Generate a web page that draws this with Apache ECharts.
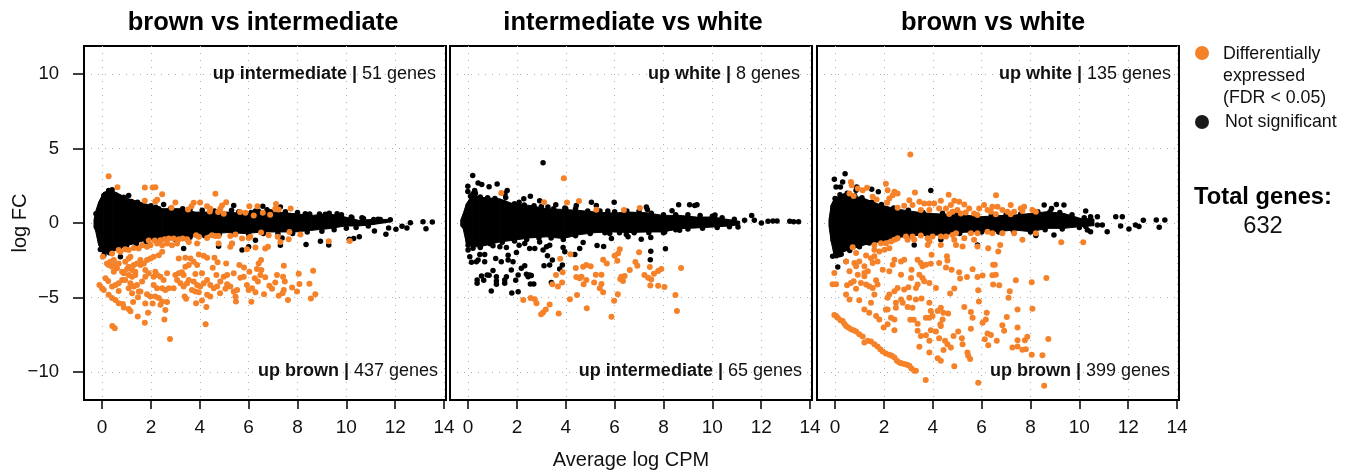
<!DOCTYPE html>
<html><head><meta charset="utf-8">
<script src="https://cdn.jsdelivr.net/npm/echarts@6/dist/echarts.min.js"></script>
<style>html,body{margin:0;padding:0;background:#fff}#c{width:1354px;height:475px}</style></head>
<body><div id="c"></div>
<script>
const panelTitles=['brown vs intermediate','intermediate vs white','brown vs white'];
const topNotes=[['up intermediate |','51 genes'],['up white |','8 genes'],['up white |','135 genes']];
const bottomNotes=[['up brown |','437 genes'],['up intermediate |','65 genes'],['up brown |','399 genes']];
const xTicks=[0,2,4,6,8,10,12,14];
const yTicks=[-10,-5,0,5,10];

// Dense core of non-significant genes: [average log CPM, upper log FC, lower log FC]
const core1=[[-.33,.2,-.3],[-.27,.73,-.49],[-.14,1.4,-1.49],[.07,2.07,-2.04],[.41,2.18,-1.93],[1.09,1.62,-1.49],[1.77,1.29,-1.16],[2.46,.96,-1.04],[3.14,.96,-1],[3.82,.73,-.87],[4.5,.73,-.71],[5.18,.73,-.64],[5.87,.62,-.71],[6.55,.73,-.6],[7.23,.73,-.6],[7.91,.62,-.6],[8.59,.51,-.49],[9.28,.62,-.38],[9.96,.4,-.2],[10.5,.18,-.2],[11.05,.24,-.11],[11.8,.24,.07]];
const core2=[[-.3,.2,-.2],[-.2,.62,-.38],[-.07,1.29,-1.38],[.2,1.96,-1.6],[.48,1.73,-1.6],[1.3,1.62,-1.27],[1.84,1.29,-1.16],[2.52,1.18,-1],[3.21,.96,-.93],[3.89,.91,-1.04],[4.57,.84,-.78],[5.25,.73,-.64],[5.93,.67,-.6],[6.62,.73,-.64],[7.3,.69,-.6],[7.98,.51,-.6],[8.66,.51,-.38],[9.35,.4,-.33],[10.03,.4,-.27],[10.71,.22,-.2],[11.12,.11,-.11]];
const core3=[[-.25,.2,-.2],[-.16,1.2,-1.24],[-.03,1.64,-2.24],[.38,1.98,-1.91],[1.2,1.64,-1.47],[1.88,1.2,-1.24],[2.56,.93,-.98],[3.24,.76,-.84],[3.92,.64,-.84],[4.6,.58,-.76],[5.29,.53,-.62],[5.97,.42,-.58],[6.65,.49,-.58],[7.33,.53,-.47],[8.01,.64,-.58],[8.69,.76,-.36],[9.37,.64,-.36],[10.05,.31,-.24],[10.6,.27,-.18]];

// Individually visible non-significant genes: [average log CPM, log FC]
const black1=[[-.25,.62],[.07,1.84],[.27,2.18],[.41,2.24],[1.09,1.84],[.89,1.73],[2.52,1.24],[2.32,.96],[5.39,1.18],[6.58,1.13],[6.28,.8],[6.75,.89],[7.3,1.07],[8.32,.62],[9.14,.58],[9.62,.62],[10.23,.36],[10.64,.36],[11.12,.24],[11.39,.24],[11.8,.22],[11.15,-.53],[11.62,-.76],[11.73,-.33],[12.03,-.42],[12.28,-.22],[12.48,-.33],[12.62,.02],[13.14,.09],[13.26,-.38],[13.52,.07],[10.53,-.93],[10.3,-1.04],[10.12,-1.09],[9.28,-1.47],[8.94,-1.22],[8.35,-1.44],[7.3,-1.49],[7.37,-1],[6.28,-1.16],[6,-1.6],[5.73,-1.82],[4.77,-1.56],[5.32,-1.38],[3.34,-1.71],[.75,-2.27],[-.07,-1.78],[.07,-2.16],
[.2,1.95],[.55,1.9],[.85,1.7],[1.2,1.45],[1.45,1.4],[2,1.15],[2.2,1.05],[2.8,.95],[3.3,.95],[3.6,.9],[4.1,.85],[4.6,.8],[5.3,.85],[5.6,.75],[6.1,.7],[6.4,.8],[6.9,.75],[7.5,.75],[8,.7],[8.5,.6],[8.9,.6],[9.3,.65],[9.8,.55],[10.2,.4],[10.7,.3],[11.3,.25],
[.1,-1.95],[.3,-2],[.7,-1.75],[1,-1.6],[1.4,-1.4],[1.8,-1.25],[2.3,-1.15],[3,-1.1],[3.6,-.95],[4.2,-.85],[4.8,-.75],[5.4,-.75],[6,-.75],[6.6,-.7],[7.2,-.7],[7.8,-.7],[8.4,-.6],[9,-.55],[9.5,-.45],[10,-.35],[10.4,-.3],[10.9,-.2]];
const black2=[[3.07,4.04],[.19,3.18],[-.01,2.47],[-.01,2.11],[.41,2.69],[.56,2.58],[.86,2.44],[1.19,2.62],[.27,2.18],[.2,1.96],[1.6,2.18],[1.51,1.96],[1.54,1.71],[2.55,1.8],[2.28,1.62],[2.09,1.4],[2.93,1.49],[3.27,1.07],[3.59,1.22],[3.96,1],[4.43,1.18],[5.05,1.4],[5.25,1.18],[5.98,1.4],[5.72,.8],[7.3,1.07],[7.34,.91],[8.35,.82],[8.62,1.22],[9.07,1.22],[9.28,1.18],[9.37,1.22],[10.11,.53],[11.61,.51],[11.72,.18],[12.01,0],[12.28,.11],[12.48,.13],[12.65,.13],[13.17,.11],[13.33,.09],[13.53,.09],[11.32,.18],[11.05,-.27],[0,-1.82],[.07,-2.27],[.14,-2.64],[.34,-2.6],[.41,-2.49],[.68,-2.6],[.48,-2.11],[.68,-2.11],[1.02,-1.53],[1.3,-1.6],[1.57,-1.64],[1.13,-2.38],[1.36,-2.6],[1.64,-2.16],[1.64,-2.49],[1.98,-1.98],[1.84,-2.6],[1.77,-3.16],[2.18,-3.04],[2.32,-2.87],[2.05,-3.49],[1.95,-3.84],[1.02,-3.18],[.55,-3.56],[.78,-3.49],[.86,-3.51],[.64,-3.84],[.37,-3.82],[.37,-4.04],[1.16,-3.6],[1.16,-3.89],[1.16,-4.11],[1.5,-3.82],[1.5,-4.04],[1.57,-3.6],[.95,-4.56],[1.79,-4.69],[2.05,-4.62],[2.39,-3.44],[2.52,-3.49],[2.46,-3.6],[2.59,-3.53],[2.55,-4.09],[2.69,-4.09],[2.09,-1.49],[2.32,-1.38],[2.52,-1.71],[2.73,-1.71],[2.93,-1.27],[3.07,-1.82],[3.21,-1.6],[3.34,-1.49],[3.25,-2.2],[3.45,-2.49],[3.11,-2.87],[3.34,-2.82],[3.75,-3.09],[3.86,-2.82],[3.89,-1.64],[3.96,-1.93],[4.37,-2.11],[4.57,-1.71],[4.71,-1.31],[5.28,-1.51],[5.55,-1.58],[5.8,-.71],[5.87,-1.04],[6.48,-.78],[6.55,-.93],[7.09,-1.09],[7.48,-.98],[7.48,-1.89],[7.46,-2.47],[8.08,-1.73],[8.05,-.6],[3.41,-4],[8.66,-.49],
[.1,1.8],[.3,2],[.5,1.75],[.8,1.7],[1.1,1.65],[1.5,1.35],[1.9,1.3],[2.3,1.2],[2.7,1.15],[3,1.1],[3.5,.95],[4,.95],[4.4,.95],[4.9,.8],[5.4,.8],[6,.75],[6.5,.8],[7,.8],[7.5,.65],[8,.55],[8.5,.55],[9,.55],[9.5,.5],[10,.45],[10.4,.35],[10.9,.25],
[0,-1.5],[.2,-1.7],[.5,-1.65],[.9,-1.4],[1.4,-1.3],[1.9,-1.2],[2.4,-1.1],[2.9,-1],[3.4,-1],[3.9,-1.1],[4.4,-.85],[5,-.7],[5.6,-.65],[6.2,-.65],[6.8,-.65],[7.4,-.65],[8,-.65],[8.5,-.45],[9,-.4],[9.6,-.35],[10.2,-.3],[10.7,-.25]];
const black3=[[.41,3.31],[-.03,2.93],[.04,2.42],[.22,2.42],[.31,2.76],[.86,2.2],[.89,2.42],[1.5,2.27],[1.77,2.09],[3.92,2.18],[8.56,1.2],[9.06,1.24],[9.37,1.2],[10.26,.8],[8.86,.98],[11.49,.42],[11.76,.42],[10.74,.42],[10.46,.42],[12.62,.18],[13.15,.2],[13.5,.2],[13.27,-.29],[12.03,-.4],[12.3,-.13],[12.44,-.24],[11.69,-.2],[11.14,-.58],[10.33,-.47],[10.26,-.24],[10.46,-.58],[10.74,-.13],[10.94,-.13],[.11,-2.96],[-.1,-2.24],[.18,-2.13],[.45,-2.58],[8.96,-.8],[8.22,-.84],[5.83,-1.47],[4.33,-1.13],[3.24,-1.47],
[0,1.65],[.2,1.9],[.5,2],[.8,1.85],[1.1,1.7],[1.5,1.4],[1.9,1.25],[2.4,1],[3,.85],[3.6,.7],[4.4,.65],[5,.55],[5.8,.5],[6.4,.55],[7,.55],[7.6,.6],[8.3,.75],[8.8,.75],[9.2,.7],[9.7,.55],[10.2,.35],
[.05,-2.2],[.25,-2.1],[.6,-1.85],[1,-1.6],[1.4,-1.35],[1.9,-1.25],[2.5,-1.05],[3.1,-.9],[3.8,-.9],[4.5,-.8],[5.1,-.7],[6,-.6],[6.7,-.6],[7.3,-.55],[8,-.6],[8.6,-.45],[9.3,-.4],[10,-.3]];

// Differentially expressed genes: [average log CPM, log FC]
const orange1=[[.27,3.13],[.63,2.4],[1.75,2.38],[2.07,2.38],[2.18,2.4],[2.46,1.93],[1.75,1.49],[2.18,1.44],[2.26,1.56],[3,1.38],[2.84,1.02],[4.64,1.96],[3.75,1.36],[4.01,1.38],[3.66,1.13],[3.52,.91],[4.3,1.13],[4.43,.96],[4.41,.78],[5.08,1.4],[4.91,1.18],[4.84,.96],[4.75,.73],[4.98,.62],[5.65,.73],[5.87,.69],[6.03,1.13],[6.21,.51],[6.36,1.13],[6.58,.69],[6.88,.56],[7.12,1.27],[7.09,.96],[7.23,.91],[7.72,.98],
[1.91,-1.18],[2.16,-1.18],[2.39,-1.16],[2.56,-1.09],[2.73,-1.04],[2.93,-1.04],[3.14,-1.09],[3.3,-1.04],[3.48,-1.09],[3.85,-.82],[3.96,-.93],[4.3,-1],[4.5,-.82],[4.64,-.87],[4.77,-.87],[5.25,-.87],[5.46,-.78],[5.73,-1.04],[6,-1],[6.07,-.93],[6.51,-.64],[6.82,-.82],[7.19,-.93],[7.67,-.6],[7.64,-1.09],[8.12,-.78],[9.28,-1.22],[10.14,-1.2],
[1.64,-1.49],[1.84,-1.6],[1.98,-1.49],[2.25,-1.38],[2.46,-1.49],[2.66,-1.38],[2.86,-1.49],[3.07,-1.38],[3.55,-1.27],[3.89,-1.38],[4.77,-1.38],[5.25,-1.6],[5.32,-1.38],[5.93,-1.76],[6.28,-1.64],[6.68,-1.71],[6.79,-1.6],[7.3,-1.27],[1.3,-1.67],[.95,-1.76],[.68,-1.82],[.41,-2.04],[.03,-2.27],[.75,-1.93],[1.09,-1.82],[1.5,-1.71],
[.2,-2.71],[.34,-2.6],[.48,-2.49],[.55,-2.82],[.68,-2.71],[.41,-2.93],[.27,-2.82],[.61,-3.04],[.82,-3.27],[.48,-3.27],[1.09,-2.38],[.95,-2.6],[1.16,-2.27],[1.3,-2.82],[1.43,-2.71],[1.57,-2.49],[1.71,-2.71],[1.84,-2.49],[1.98,-2.38],[2.11,-2.27],[2.32,-2.16],[2.46,-1.93],[1.57,-2.82],[1.77,-3.16],[1.09,-2.93],[1.23,-3.16],[1.36,-3.27],[.89,-3.38],[1.02,-3.09],
[.14,-3.71],[.25,-3.89],[-.11,-4.16],[0,-4.38],[.07,-4.49],[.55,-4.16],[.68,-4.04],[.82,-3.82],[.95,-3.82],[.41,-4.27],[.68,-4.56],[1.09,-3.49],[1.23,-3.6],[1.36,-3.49],[1.16,-4.04],[1.3,-4.27],[1.09,-4.38],[1.23,-4.71],[1.43,-4.16],[1.64,-3.93],[1.77,-3.6],[1.91,-3.38],[1.57,-4.6],[1.5,-4.6],[2.18,-3.27],[2.11,-3.6],[2.25,-3.49],[2.39,-3.6],[2.52,-3.82],[2.66,-3.38],[2.11,-4.16],[2.25,-4.38],[2.46,-4.38],[2.59,-4.49],[2.73,-4.38],[2.93,-4.38],[3,-3.49],[3.14,-3.38],[3.27,-3.31],[3.34,-3.49],[3.07,-3.82],[3.21,-4.04],[3.34,-4.27],[3.48,-4.04],[3.55,-3.82],[3.82,-3.42],[4.09,-3.38],[3.75,-3.93],[3.89,-4.16],[4.02,-4.27],[4.16,-4.04],[4.3,-3.82],[4.43,-4.16],[4.57,-4.38],[4.71,-4.27],[4.84,-3.93],[4.98,-3.6],[4.68,-3.49],[5.12,-3.49],[5.39,-3.38],[5.8,-3.6],[5.66,-3.67],[6.03,-3.27],[6.25,-3.71],[6.48,-3.49],[6.52,-3.16],[6.68,-3.64],[6.38,-3.93],
[3.14,-2.38],[3.41,-2.33],[3.62,-2.38],[3.75,-2.6],[3.55,-2.82],[3.41,-2.93],[3.89,-2.82],[3.96,-2.11],[4.16,-2.2],[4.3,-2.33],[4.6,-2.33],[4.73,-2.64],[4.53,-3],[5.08,-2.71],[5.62,-2.82],[5.81,-2.98],[6.34,-3.09],[6.41,-2.71],[6.51,-2.49],[7.44,-2.87],[7.16,-3.49],[7.41,-3.6],[8.05,-3.4],[8.64,-3.2],[7.48,-3.93],[7.09,-4],[6.85,-4.22],[6.96,-4.42],[8.08,-4.09],[8.49,-4.07],[7.78,-4.33],[7.98,-4.6],[7.44,-4.49],[7.39,-4.71],[7.23,-4.89],[7.61,-5.16],[8.55,-5.07],[8.73,-4.78],
[5.93,-4.16],[6.14,-4.38],[6,-4.49],[6.28,-4.64],[6.63,-4.78],[5.53,-4.49],[5.39,-4.6],[5.46,-4.93],[5.48,-5.27],[6.11,-5.29],[5.12,-4.11],[5.25,-4.27],[5.05,-4.42],[4.83,-4.71],[3.82,-4.6],[3.68,-4.49],[3.96,-4.64],[4.3,-4.82],[4.43,-4.93],[3.38,-4.93],[3.44,-5.09],[3.85,-5.38],[4.09,-5.2],[4.27,-5.64],
[.27,-4.82],[.41,-5.04],[.55,-5.16],[.68,-5.38],[.85,-5.44],[.89,-5.67],[1.09,-5.78],[1.16,-5.93],[1.27,-5.31],[1.47,-4.98],[1.84,-4.78],[1.98,-4.93],[2.18,-4.93],[2.32,-5.04],[2.46,-5.27],[2.66,-5.31],[1.77,-5.4],[2.07,-5.4],[2.39,-5.49],[2.59,-5.84],[1.88,-6.02],[1.46,-6.27],[1.75,-6.69],[2.55,-6.47],[.42,-6.91],[.52,-7.07],[2.78,-7.78],[4.24,-6.8]];
const orange2=[[3.92,3],[1.36,2.02],[3.11,1.4],[4.05,1.38],[4.54,1.47],[5.25,.89],[6.38,.87],[7.03,1],[3.77,-2.4],[4.19,-2.09],[6.21,-1.76],[6.14,-2.04],[6,-2.2],[6.11,-2.53],[7,-1.96],[5.53,-2.47],[5.68,-2.71],[4.41,-3.02],[4.71,-2.93],[4.84,-2.82],[5.02,-2.91],[6.85,-2.62],[6.93,-2.87],[6.62,-3.16],[7.44,-2.96],[8.72,-3.02],[7.91,-3.09],[7.78,-3.22],[7.61,-3.4],[7.22,-3.49],[7.37,-3.67],[7.5,-3.8],[5.23,-3.47],[5.46,-3.47],[3.6,-3.49],[3.87,-3.31],[4.43,-3.62],[4.57,-3.71],[4.64,-3.6],[4.84,-3.82],[6.28,-3.6],[6.41,-3.56],[6.23,-3.76],[6.34,-3.89],[3.45,-4.11],[3.68,-4.27],[3.85,-4],[4.73,-4.11],[5.16,-4],[5.46,-4.09],[5.39,-4.38],[5.53,-4.64],[7.46,-4.2],[7.78,-4.22],[8.04,-4.29],[8.49,-4.84],[4.46,-4.84],[4.17,-5.11],[6.13,-4.78],[5.98,-5.22],[2.26,-5.16],[2.56,-5.04],[2.73,-5.11],[2.8,-5.38],[3.34,-5.47],[3.18,-5.8],[3.07,-6],[2.99,-6.13],[3.71,-6.07],[4.86,-5.73],[5.87,-6.29],[8.55,-5.91]];
const orange3=[[3.08,4.6],[.65,2.76],[.68,2.53],[.59,1.98],[.76,1.82],[.93,2.31],[1.13,2.2],[1.31,2.36],[1.54,1.76],[1.7,1.58],[2.08,2.64],[2.15,2.2],[2.43,2.09],[2.56,1.98],[2.36,1.87],[2.22,1.64],[2.13,1.36],[3.27,2.04],[4.65,1.89],[6.59,1.87],
[2.56,1.02],[2.83,1.16],[3.04,1.53],[3.17,1.2],[3.45,1.42],[3.65,1.31],[3.86,1.31],[4.06,1.31],[4.33,1.49],[4.26,.98],[3.86,.87],[3.51,.87],[4.54,.98],[4.74,1.2],[4.88,1.49],[5.08,1.42],[5.29,1.24],[5.01,.87],[4.81,.76],[4.67,.6],[5.15,.64],[5.49,.98],[5.35,.71],[5.69,.64],[5.9,.98],[6.1,1.2],[6.24,.87],[6.44,1.09],[6.65,1.09],[6.85,.87],[7.06,.76],[7.19,1.2],[7.33,.76],[7.6,.98],[7.74,1.09],[8.08,.87],[8.22,.76],[5.83,.53],[6.38,.76],[6.58,.58],[7.19,.58],[7.67,.8],
[2.56,-1.02],[2.43,-1.13],[2.9,-.91],[3.17,-.91],[3.51,-.84],[3.79,-1.02],[3.99,-.91],[4.33,-.91],[4.54,-.91],[4.81,-.8],[4.95,-.69],[5.29,-1.02],[5.56,-.69],[5.83,-.69],[6.24,-.58],[6.44,-.69],[6.85,-.69],[7.33,-.69],[7.67,-1.13],[8.22,-.69],[9.26,-1.29],[10.16,-1.29],[5.69,-1.13],[5.22,-1.58],[5.83,-1.58],[6.27,-1.69],[6.68,-1.91],[6.76,-1.47],[4.88,-1.13],[4.95,-1.47],[4.33,-1.47],[3.79,-1.47],[3.24,-1.13],[2.97,-1.13],[2.08,-1.36],[1.88,-1.36],[1.61,-1.47],[2.29,-1.24],[1.81,-1.91],[2.02,-1.8],[2.22,-1.69],[1.61,-1.8],[3.86,-1.24],[.72,-1.62],[.86,-2.02],[1.27,-2.18],[1.47,-2.36],[1.61,-2.24],[1.74,-2.58],[1.54,-2.69],[.45,-2.58],[.79,-2.69],[.99,-2.58],[1.2,-2.91],[.86,-2.91],[.93,-3.47],[1.2,-3.36],[1.34,-3.24],[.59,-3.24],[1.2,-3.58],[-.03,-3.36],[-.1,-4.11],[.04,-4.11],[.49,-4.18],[.65,-4.02],[.76,-3.91],[1.06,-4.02],[1.27,-4.13],[1.4,-4.24],[1.68,-3.84],[1.74,-4.13],[1.54,-4.36],[1.61,-4.8],[1.47,-5.36],[.86,-4.42],[.45,-4.8],[.59,-5.13],[.99,-5.18],[1.2,-5.8],[1.4,-6.02],[1.68,-6.24],[1.81,-6.47],[1.99,-7.02],[2.15,-6.8],[2.43,-7.2],[2.29,-6.36],[2.43,-6.47],[2.08,-5.8],
[1.95,-3.13],[2.22,-3.24],[2.36,-2.8],[2.43,-2.47],[2.7,-2.58],[2.83,-2.47],[3.38,-2.47],[3.51,-2.69],[3.72,-2.8],[3.92,-2.73],[3.58,-2.91],[3.95,-2.13],[4.26,-2.69],[4.58,-2.24],[4.6,-2.51],[4.54,-2.98],[4.77,-3.13],[5.63,-3.11],[5.08,-3.31],[5.4,-3.62],[5.12,-3.73],[5.83,-3.62],[6.04,-3.53],[6.47,-2.8],[6.54,-2.8],[6.44,-3.51],[6.58,-3.47],[7.4,-3.84],[8.65,-3.69],[8.05,-3.98],[6.47,-4.13],[6.72,-4.18],[5.86,-4.51],[7.15,-4.58],[7.1,-5.02],[5.89,-5.27],[4.71,-4.73],[4.88,-4.4],
[2.7,-3.47],[3.13,-3.13],[3.11,-3.69],[3.45,-3.47],[3.58,-3.69],[3.65,-3.91],[3.38,-4.13],[3.31,-4.36],[3.86,-4.02],[4.13,-4.36],[2.43,-4.58],[2.56,-4.36],[2.22,-4.8],[2.83,-4.47],[3,-4.31],[3.04,-5.02],[3.54,-5.07],[3.31,-5.13],[2.7,-5.13],[2.49,-5.36],[2.15,-5.02],[2.77,-5.36],[2.97,-5.64],[3.17,-5.69],[2.49,-5.69],[2.15,-5.8],[3.86,-5.36],[3.22,-6.49],[3.08,-6.49],[3.92,-5.91],[3.86,-6.36],[3.72,-6.36],[3.99,-6.24],[4.33,-5.69],[4.2,-5.91],[4.43,-6.02],[4.63,-6.07],[4.4,-6.47],[4.31,-6.8],[5.29,-5.64],[5.56,-5.98],[6.21,-6.02],[7.47,-5.8],[8.08,-5.76],[5.63,-6.36],[6.17,-6.47],[6.04,-6.69],[5.56,-7.09],[7.03,-6.31],[6.85,-6.87],[6.92,-7.24],[7.47,-7.02],[6.24,-7.42],[6.38,-7.51],[6.13,-7.8],[6.62,-7.91],[6.27,-8.2],[7.47,-7.87],[7.77,-7.87],[7.87,-7.64],[8.73,-7.78],[3.38,-6.76],[3.38,-7.24],[3.51,-7.58],[3.72,-7.53],[3.92,-7.2],[4.13,-7.29],[4.33,-6.91],[5.04,-7.29],[4.85,-7.58],[5.19,-7.73],[5.22,-8.13],[3.86,-7.91],[4.26,-7.73],[4.5,-7.91],[4.6,-8.13],[4.74,-8.36],[3.45,-8.31],[3.86,-8.69],[4.44,-8.53],[5.42,-8.69],[5.45,-8.91],[5.53,-9.13],[4.2,-9.07],[4.33,-9.24],[4.88,-9.62],[7.26,-8.36],[7.47,-8.29],[7.67,-8.51],[7.81,-8.47],[8.05,-8.84],[8.49,-8.87],[3.71,-10.53],[5.86,-10.73],[8.56,-10.93],
[-.03,-6.18],[.04,-6.24],[.11,-6.36],[.22,-6.53],[.31,-6.58],[.38,-6.76],[.45,-6.91],[.54,-7.02],[.65,-7.13],[.76,-7.2],[.86,-7.29],[.99,-7.47],[1.13,-7.62],[1.2,-8.02],[1.34,-7.91],[1.47,-7.96],[1.61,-8.13],[1.74,-8.29],[1.85,-8.47],[1.95,-8.62],[2.08,-8.76],[2.22,-8.84],[2.32,-8.91],[2.43,-9.02],[2.53,-9.24],[2.63,-9.36],[2.72,-9.42],[2.83,-9.47],[2.94,-9.51],[3.04,-9.58],[3.13,-9.76],[3.24,-9.91],[3.31,-9.91]];

const legendLabels=['Differentially','expressed','(FDR < 0.05)','Not significant'];
const totalLabel='Total genes:';
const totalValue='632';
const xAxisName='Average log CPM';
const yAxisName='log FC';

const ORANGE='#F58229',BLACK='#000',FONT='"Liberation Sans",Arial,sans-serif';
const cores=[core1,core2,core3],blacks=[black1,black2,black3],oranges=[orange1,orange2,orange3];
const grids=[{left:84,top:46,width:362,height:354},{left:450,top:46,width:362,height:354},{left:817,top:46,width:362,height:354}];
const titleCenters=[263,633,993];
const ranges=[-.74,14.08];
const notePos=[[918,554,183],[916,552,184]];
const gridStyle={show:true,lineStyle:{color:'#adadad',width:1,type:[1,6]}};
const chart=echarts.init(document.getElementById('c'),null,{renderer:'canvas'});
const titleArr=[];
panelTitles.forEach((t,i)=>titleArr.push({text:t,left:titleCenters[i],top:10,padding:0,textAlign:'center',textStyle:{fontFamily:FONT,fontSize:25.5,fontWeight:'bold',color:'#000'}}));
function note(arr,right,top){return {text:'{b|'+arr[0]+'} {n|'+arr[1]+'}',right:right,top:top,padding:0,textStyle:{fontWeight:'normal',rich:{b:{fontFamily:FONT,fontSize:18,fontWeight:'bold',color:'#111'},n:{fontFamily:FONT,fontSize:18,fontWeight:'normal',color:'#111'}}}};}
topNotes.forEach((a,i)=>titleArr.push(note(a,notePos[0][i],65)));
bottomNotes.forEach((a,i)=>titleArr.push(note(a,notePos[1][i],362)));
const series=[];
function coreItem(rows){return function(params,api){const i=params.dataIndex;if(i>=rows.length-1)return null;
  const a=rows[i],b=rows[i+1];
  const pts=[api.coord([a[0],a[1]]),api.coord([b[0],b[1]]),api.coord([b[0],b[2]]),api.coord([a[0],a[2]])];
  return {type:'polygon',shape:{points:pts},style:{fill:BLACK,stroke:BLACK,lineWidth:1}};};}
[0,1,2].forEach(i=>{
  series.push({type:'custom',name:'Not significant core',xAxisIndex:i,yAxisIndex:i,data:cores[i],renderItem:coreItem(cores[i]),silent:true,z:2,encode:{x:0,y:[1,2]}});
  series.push({type:'scatter',name:'Not significant',xAxisIndex:i,yAxisIndex:i,data:blacks[i],symbolSize:5.5,itemStyle:{color:BLACK,opacity:1},z:3,silent:true});
  series.push({type:'scatter',name:'Differentially expressed',xAxisIndex:i,yAxisIndex:i,data:oranges[i],symbolSize:6,itemStyle:{color:ORANGE,opacity:1},z:4,silent:true});
});
chart.setOption({
  animation:false,backgroundColor:'#fff',
  title:titleArr,
  grid:grids.map(g=>Object.assign({show:true,outerBoundsMode:'none',containLabel:false,borderColor:'#000',borderWidth:2,backgroundColor:'transparent'},g)),
  xAxis:[0,1,2].map(i=>({type:'value',gridIndex:i,min:ranges[0],max:ranges[1],
    name:i===1?xAxisName:'',nameLocation:'middle',nameGap:50,nameMoveOverlap:false,nameTextStyle:{fontFamily:FONT,fontSize:20,color:'#111'},
    axisLine:{show:true,onZero:false,lineStyle:{color:'#000',width:2}},
    axisTick:{show:true,length:9,customValues:xTicks,lineStyle:{color:'#000',width:1.5}},
    axisLabel:{customValues:xTicks,margin:18,fontFamily:FONT,fontSize:19,color:'#111',showMinLabel:true,showMaxLabel:true},
    splitLine:Object.assign({},gridStyle)})),
  yAxis:[0,1,2].map(i=>({type:'value',gridIndex:i,min:-11.88,max:11.88,
    name:i===0?yAxisName:'',nameLocation:'middle',nameGap:54,nameMoveOverlap:false,nameRotate:90,nameTextStyle:{fontFamily:FONT,fontSize:20,color:'#111'},
    axisLine:{show:true,onZero:false,lineStyle:{color:'#000',width:2}},
    axisTick:{show:i===0,length:11,customValues:yTicks,lineStyle:{color:'#000',width:1.5}},
    axisLabel:{show:i===0,customValues:yTicks,margin:25,fontFamily:FONT,fontSize:18.5,color:'#111',formatter:v=>String(v).replace('-','\u2212')},
    splitLine:Object.assign({},gridStyle)})),
  series:series,
  graphic:{elements:[
    {type:'circle',shape:{cx:1202,cy:53,r:7},style:{fill:ORANGE}},
    {type:'circle',shape:{cx:1202,cy:122,r:7},style:{fill:'#1a1a1a'}},
    {type:'text',x:1223,y:54,style:{text:legendLabels[0],font:'17.8px '+FONT,fill:'#111',textVerticalAlign:'middle'}},
    {type:'text',x:1223,y:76,style:{text:legendLabels[1],font:'17.8px '+FONT,fill:'#111',textVerticalAlign:'middle'}},
    {type:'text',x:1223,y:98,style:{text:legendLabels[2],font:'17.8px '+FONT,fill:'#111',textVerticalAlign:'middle'}},
    {type:'text',x:1225,y:122,style:{text:legendLabels[3],font:'17.8px '+FONT,fill:'#111',textVerticalAlign:'middle'}},
    {type:'text',x:1263,y:197,style:{text:totalLabel,font:'bold 23.7px '+FONT,fill:'#000',textAlign:'center',textVerticalAlign:'middle'}},
    {type:'text',x:1263,y:226,style:{text:totalValue,font:'23.7px '+FONT,fill:'#111',textAlign:'center',textVerticalAlign:'middle'}}
  ]}
});
</script></body></html>
